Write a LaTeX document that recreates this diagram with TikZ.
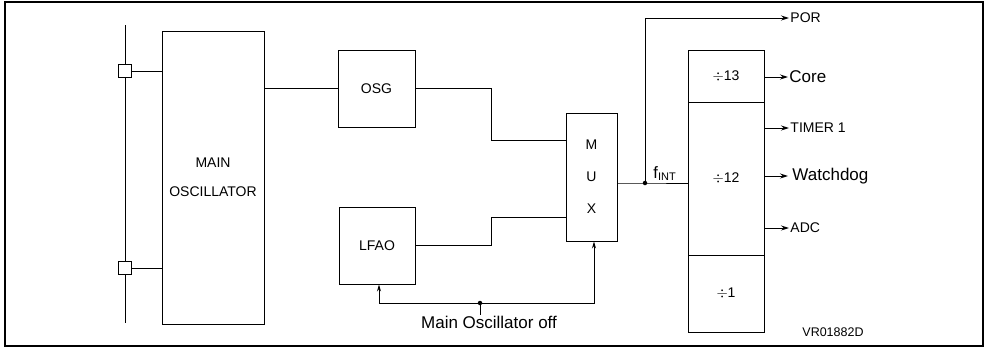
\documentclass[tikz,border=0pt]{standalone}
\usepackage{fontspec}
\setmainfont{Liberation Sans}
\usetikzlibrary{arrows.meta,calc}
\begin{document}
\begin{tikzpicture}[x=1pt,y=-1pt,
  line width=0.9pt,
  box/.style={draw,line width=0.9pt,inner sep=0pt,font=\fontsize{14}{16}\selectfont},
  pad/.style={draw,line width=0.9pt,fill=white,minimum size=13pt,inner sep=0pt},
  arr/.style={-{Stealth[length=8pt,width=5pt]}},
  sarr/.style={-{Stealth[length=7pt,width=4pt]}},
  sm/.style={font=\fontsize{14}{16}\selectfont,inner sep=1pt},
  lg/.style={font=\fontsize{17}{19}\selectfont,inner sep=1pt},
  jdot/.style={circle,fill,inner sep=0pt,minimum size=4.5pt}]
\useasboundingbox (0,0) rectangle (987,349);
\draw[line width=1.3pt] (5,2) rectangle (983,346);
% pins
\coordinate (rt) at (125,25);
\coordinate (rb) at (125,323);
\draw (rt) -- (rb);
\node[pad] (pad1) at (125,71) {};
\node[pad] (pad2) at (125,268) {};
% blocks
\node[box,minimum width=102pt,minimum height=293pt,align=center,
  font=\fontsize{14}{29}\selectfont] (mosc) at (213,177.5) {MAIN\\OSCILLATOR};
\node[box,minimum width=77pt,minimum height=77pt] (osg) at (376.5,88.5) {OSG};
\node[box,minimum width=76pt,minimum height=77pt] (lfao) at (377,245.5) {LFAO};
\node[box,minimum width=51pt,minimum height=128pt,align=center,
  font=\fontsize{14}{32}\selectfont] (mux) at (591.5,177) {M\\U\\X};
\node[box,minimum width=76pt,minimum height=52pt] (d13) at (726,76) {$\div$13};
\node[box,minimum width=76pt,minimum height=153pt] (d12) at (726,178.5) {$\div$12};
\node[box,minimum width=76pt,minimum height=77pt] (d1) at (726,293.5) {$\div$1};
% pin connections
\draw (pad1.east) -- (pad1.east -| mosc.west);
\draw (pad2.east) -- (pad2.east -| mosc.west);
\draw (mosc.east |- osg.west) -- (osg.west);
% to mux
\coordinate (j1) at (491,140);
\coordinate (j2) at (491,217);
\draw (osg.east) -| (j1) -- (j1 -| mux.west);
\draw (lfao.east) -| (j2) -- (j2 -| mux.west);
% control
\node[jdot] (ctl) at (480,303) {};
\node[lg,anchor=north] (moff) at (489,315) {Main Oscillator off};
\draw (ctl.center) -- (ctl.center |- moff.north);
\draw[sarr] (ctl.center) -| ([xshift=2pt]lfao.south);
\draw[sarr] (ctl.center) -| ([xshift=2.5pt]mux.south);
% mux output
\node[jdot] (fj) at (645,183) {};
\draw (mux.east |- fj.center) -- (fj.center) -- (fj.center -| d12.west);
\node[anchor=south west,inner sep=0pt] (fint) at (653,181)
  {\fontsize{16.5}{18}\selectfont f\raisebox{-2.5pt}{\fontsize{11}{12}\selectfont INT}};
% POR
\node[sm,anchor=west] (por) at (789,18) {POR};
\draw[arr] (fj.center) |- (por.west);
% outputs
\node[lg,anchor=west] (core) at (788,77) {Core};
\node[sm,anchor=west] (tim) at (789,128) {TIMER 1};
\node[lg,anchor=west] (wd) at (791,176) {Watchdog};
\node[sm,anchor=west] (adc) at (789,228) {ADC};
\draw[arr] (d13.east |- core.west) -- (core.west);
\draw[arr] (d12.east |- tim.west) -- (tim.west);
\draw[arr] (d12.east |- wd.west) -- ([xshift=-3pt]wd.west);
\draw[arr] (d12.east |- adc.west) -- (adc.west);
\node[font=\fontsize{12.5}{14}\selectfont] (vr) at (833,332) {VR01882D};
\end{tikzpicture}
\end{document}
